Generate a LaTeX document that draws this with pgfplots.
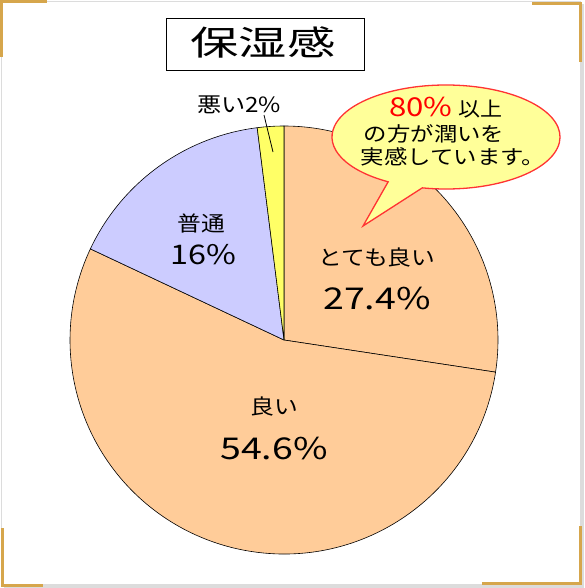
\documentclass[border=0pt]{standalone}
\usepackage{pgfplots}
\usepackage{pgfplotstable}
\usepackage{graphicx}
\usepackage{fontspec}
\setmainfont{Noto Sans CJK JP}
\pgfplotsset{compat=1.18}

\definecolor{pieorange}{RGB}{255,204,153}
\definecolor{pielav}{RGB}{204,204,255}
\definecolor{pieyel}{RGB}{255,255,102}
\definecolor{calfill}{RGB}{255,255,153}
\definecolor{calred}{RGB}{255,51,51}
\definecolor{gold}{RGB}{214,166,76}
\definecolor{framegray}{RGB}{220,220,220}

% share of each answer, clockwise from 12 o'clock
\pgfplotstableread{
label value col
とても良い 27.4 pieorange
良い 54.6 pieorange
普通 16 pielav
悪い 2 pieyel
}\piedata

% #1 font size, #2 horizontal stretch, #3 text
\newcommand\tx[3]{\scalebox{#2}[1]{\fontsize{#1}{#1}\selectfont #3}}

\begin{document}
\begin{tikzpicture}
\begin{axis}[
    x=1pt, y=1pt,
    xmin=0, xmax=584, ymin=0, ymax=588,
    y dir=reverse,
    scale only axis,
    hide axis,
    clip=false,
  ]
  % frame
  \fill[white] (axis cs:0,0) rectangle (axis cs:584,588);
  \fill[framegray] (axis cs:581,4) rectangle (axis cs:584,588);
  \fill[framegray] (axis cs:4,585) rectangle (axis cs:584,588);
  \draw[framegray, line width=0.8pt] (axis cs:1,1) rectangle (axis cs:580,584);
  \draw[gold, line width=3pt] (axis cs:1.5,57) -- (axis cs:1.5,1.5) -- (axis cs:47,1.5);
  \draw[gold, line width=3pt] (axis cs:532,4) -- (axis cs:580,4) -- (axis cs:580,62);
  \draw[gold, line width=3pt] (axis cs:2,528) -- (axis cs:2,585) -- (axis cs:43,585);
  \draw[gold, line width=3pt] (axis cs:482,583) -- (axis cs:580,583) -- (axis cs:580,526);

  % pie slices from the table
  \def\startang{90}
  \pgfplotsforeachungrouped \i in {0,...,3}{
    \pgfplotstablegetelem{\i}{value}\of\piedata
    \let\val\pgfplotsretval
    \pgfplotstablegetelem{\i}{col}\of\piedata
    \let\col\pgfplotsretval
    \pgfmathsetmacro\endang{\startang-3.6*\val}
    \edef\pieslice{\noexpand\filldraw[fill=\col, draw=black, line width=0.6pt]
      (axis cs:284,340) -- ++(\startang:214pt)
      arc[start angle=\startang, end angle=\endang, radius=214pt] -- cycle;}
    \pieslice
    \global\let\startang\endang
  }

  % title
  \draw[black, line width=0.8pt] (axis cs:166,18) rectangle (axis cs:364,70);
  \node[inner sep=0pt] at (axis cs:263,42) {\tx{34}{1.42}{保湿感}};

  % slice labels
  \node[inner sep=0pt] at (axis cs:377,258) {\tx{21}{1.13}{とても良い}};
  \node[inner sep=0pt] at (axis cs:377,299) {\tx{30}{1.25}{27.4\%}};
  \node[inner sep=0pt] at (axis cs:274,407) {\tx{21}{1.13}{良い}};
  \node[inner sep=0pt] at (axis cs:274,448) {\tx{30}{1.25}{54.6\%}};
  \node[inner sep=0pt] at (axis cs:201,223) {\tx{21}{1.13}{普通}};
  \node[inner sep=0pt] at (axis cs:203,255) {\tx{27}{1.2}{16\%}};
  \node[inner sep=0pt] at (axis cs:239,105) {\tx{21}{1.15}{悪い2\%}};
  \draw[black, line width=0.8pt] (axis cs:264,115) -- (axis cs:273,152);

  % callout
  \filldraw[fill=calfill, draw=calred, line width=1.3pt]
    (axis cs:446,137) ++(258:114pt and 52pt)
    arc[start angle=258, end angle=599.5, x radius=114pt, y radius=52pt]
    -- (axis cs:363,226) -- cycle;
  \node[inner sep=0pt, anchor=base] at (axis cs:446,117)
    {\textcolor{red}{\tx{26}{1.2}{80\%}}\hspace{6pt}\tx{20}{1.1}{以上}};
  \node[inner sep=0pt] at (axis cs:434,134) {\tx{20}{1.17}{の方が潤いを}};
  \node[inner sep=0pt] at (axis cs:453,157) {\tx{20}{1.17}{実感しています。}};
\end{axis}
\end{tikzpicture}
\end{document}
